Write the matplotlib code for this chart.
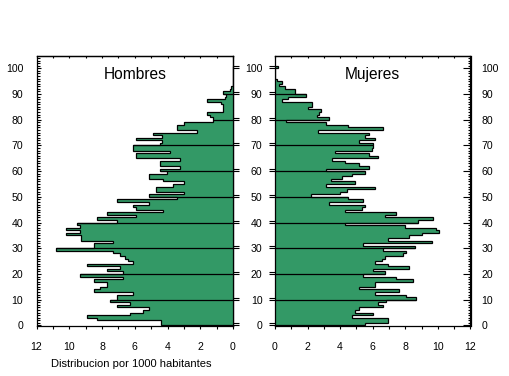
import numpy as np
import matplotlib
matplotlib.use("Agg")
import matplotlib.pyplot as plt
from matplotlib.ticker import MultipleLocator, FixedLocator, NullFormatter

plt.rcParams['font.family'] = ['Liberation Sans', 'DejaVu Sans']

# ---------------- data (per 1000 inhabitants, single-year ages 0..100) -------------
edades = np.arange(0, 101)

hombres = [
    4.4, 4.4, 8.3, 8.9, 6.3, 5.5, 5.1, 7.1, 6.3, 7.5,      # 0-9
    7.1, 7.1, 6.1, 8.5, 8.1, 7.7, 7.7, 8.5, 6.7, 9.35,     # 10-19
    6.7, 7.7, 6.9, 8.9, 6.1, 6.4, 6.6, 6.9, 7.3, 10.8,     # 20-29
    8.5, 8.5, 7.3, 9.3, 9.3, 10.2, 9.35, 10.2, 9.35, 9.55, # 30-39
    7.1, 8.3, 5.9, 7.7, 4.3, 5.9, 6.1, 5.1, 7.1, 3.4,      # 40-49
    5.1, 3.0, 4.7, 4.7, 3.65, 3.0, 4.3, 5.1, 5.1, 4.05,    # 50-59
    4.45, 3.25, 4.45, 4.45, 3.25, 5.9, 5.9, 3.85, 6.1, 6.1,# 60-69
    4.45, 4.35, 5.9, 4.35, 4.9, 2.2, 3.4, 3.4, 3.0, 1.2,   # 70-79
    1.2, 1.4, 1.6, 0.6, 0.6, 0.6, 0.75, 1.6, 0.5, 0.4,     # 80-89
    0.6, 0.2, 0.15, 0, 0, 0, 0, 0, 0, 0,                   # 90-99
    0,                                                     # 100
]

mujeres = [
    5.55, 6.95, 6.95, 4.75, 6.0, 4.9, 5.15, 6.6, 6.35, 6.8,   # 0-9
    8.65, 8.05, 6.15, 7.6, 5.15, 6.15, 6.15, 8.45, 7.45, 5.4, # 10-19
    6.75, 6.0, 8.2, 6.95, 6.15, 6.55, 6.75, 7.85, 8.05, 6.65, # 20-29
    8.6, 5.4, 9.65, 6.95, 8.2, 9.05, 10.05, 9.9, 8.0, 4.3,    # 30-39
    8.8, 9.7, 6.75, 7.45, 4.3, 5.35, 5.55, 3.3, 5.4, 4.5,     # 40-49
    2.2, 4.0, 4.4, 6.15, 3.1, 4.9, 3.45, 4.1, 4.7, 5.55,      # 50-59
    3.1, 5.75, 5.15, 4.3, 3.5, 6.35, 5.75, 3.7, 5.95, 6.0,    # 60-69
    6.0, 5.15, 6.15, 5.55, 5.75, 2.65, 6.6, 4.5, 3.1, 0.65,   # 70-79
    3.3, 2.6, 2.7, 2.85, 2.05, 2.25, 2.25, 0.4, 0.8, 1.9,     # 80-89
    1.25, 1.25, 0.6, 0.25, 0.4, 0.15, 0, 0, 0, 0,             # 90-99
    0.2,                                                      # 100
]

titulos = ["Hombres", "Mujeres"]
xticks_vals = [0, 2, 4, 6, 8, 10, 12]
yticks_vals = list(range(0, 101, 10))
xlabel_txt = "Distribucion por 1000 habitantes"

# ---------------- styling ---------------------------------------------------------
VERDE = "#339966"
W, H = 509, 376
fig = plt.figure(figsize=(W / 100, H / 100), dpi=100)


def rect(x0, y0, x1, y1):
    return [x0 / W, 1 - y1 / H, (x1 - x0) / W, (y1 - y0) / H]


axL = fig.add_axes(rect(36.5, 56, 233, 326))
axR = fig.add_axes(rect(275, 56, 470.5, 326))

edges = np.append(edades, edades[-1] + 1)
FS_TICK = 7.6
LW = 0.9

for ax, vals, titulo in ((axL, hombres, titulos[0]), (axR, mujeres, titulos[1])):
    v = np.asarray(vals, dtype=float)
    ax.stairs(v, edges, orientation="horizontal", fill=True,
              facecolor=VERDE, edgecolor="none", baseline=0)
    ax.stairs(v, edges, orientation="horizontal", fill=False,
              edgecolor="black", linewidth=LW, baseline=0)
    # decade lines across the bars
    for k in range(10, 100, 10):
        ax.hlines(k, 0, max(v[k - 1], v[k]), color="black", linewidth=LW)
    ax.set_ylim(-0.2, 104.8)
    ax.text(0.5, 0.93, titulo, transform=ax.transAxes, ha="center",
            va="center", fontsize=11.2)
    for s in ax.spines.values():
        s.set_linewidth(LW)
    # bottom x ticks
    ax.xaxis.set_major_locator(FixedLocator(xticks_vals))
    ax.xaxis.set_minor_locator(MultipleLocator(1))
    ax.tick_params(axis="x", which="both", direction="out", length=2.4,
                   width=0.8, top=False, labelsize=FS_TICK, pad=9)
    # top x ticks (inward)
    sx = ax.secondary_xaxis("top")
    sx.xaxis.set_major_locator(MultipleLocator(1))
    sx.tick_params(axis="x", which="both", direction="in", length=1.7,
                   width=0.8, labeltop=False)
    sx.spines["top"].set_linewidth(LW)

axL.set_xlim(12, 0)
axR.set_xlim(0, 12)

# ----- left panel y axis: labels on left, ticks inward; outward doubled ticks on right
axL.yaxis.set_major_locator(FixedLocator(yticks_vals))
axL.yaxis.set_minor_locator(MultipleLocator(1))
axL.tick_params(axis="y", which="major", direction="in", length=3.2, width=0.8,
                left=True, right=False, labelsize=FS_TICK, pad=9.5)
axL.tick_params(axis="y", which="minor", direction="in", length=1.8, width=0.8,
                left=True, right=False)
syL = axL.secondary_yaxis("right")
syL.yaxis.set_major_locator(FixedLocator(yticks_vals))
syL.yaxis.set_minor_locator(FixedLocator([t + 0.8 for t in yticks_vals]))
syL.tick_params(axis="y", which="both", direction="out", length=4.3, width=0.8,
                labelright=False)
syL.spines["right"].set_linewidth(LW)

# ----- right panel y axis: outward doubled ticks + labels on left; inward ticks + labels on right
axR.yaxis.set_major_locator(FixedLocator(yticks_vals))
axR.yaxis.set_minor_locator(FixedLocator([t + 0.8 for t in yticks_vals]))
axR.tick_params(axis="y", which="both", direction="out", length=4.3, width=0.8,
                left=True, right=False, labelsize=FS_TICK, pad=4.8)
syR = axR.secondary_yaxis("right")
syR.yaxis.set_major_locator(FixedLocator(yticks_vals))
syR.yaxis.set_minor_locator(MultipleLocator(1))
syR.tick_params(axis="y", which="major", direction="in", length=5.8, width=0.8,
                labelsize=FS_TICK, pad=8)
syR.tick_params(axis="y", which="minor", direction="in", length=2.2, width=0.8)
syR.spines["right"].set_linewidth(LW)

fig.text(131.5 / W, 1 - 364 / H, xlabel_txt, ha="center", va="center",
         fontsize=8)

fig.savefig("out.png", dpi=100)
